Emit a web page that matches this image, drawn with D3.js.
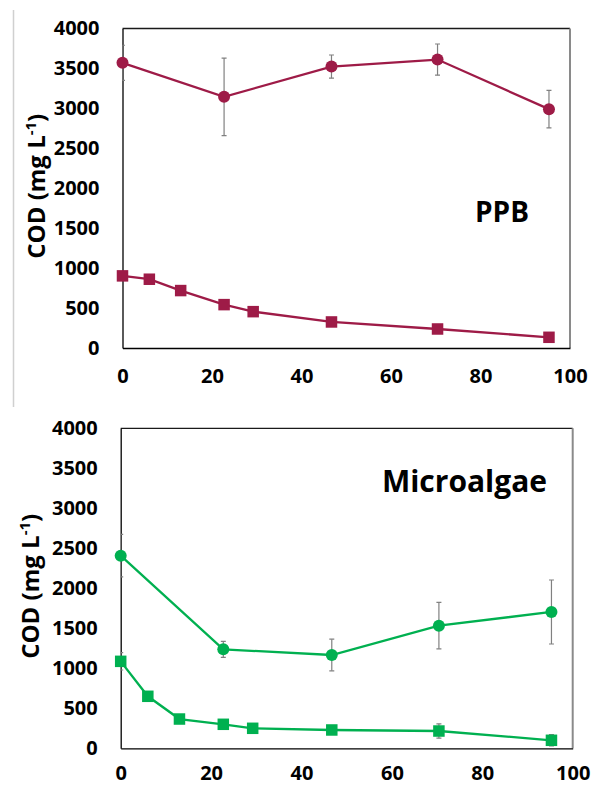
<!DOCTYPE html>
<html>
<head>
<meta charset="utf-8">
<script src="https://cdn.jsdelivr.net/npm/d3@7"></script>
<style>
    body { margin: 0; background: #fff; }
    svg { display: block; }
    .tick text { font-family: "Open Sans", sans-serif; font-weight: bold; font-size: 20px; fill: #000; }
</style>
</head>
<body>
<div id="plot"></div>
<script>

// sampling times (h)
const timeCirc = [0, 22.7, 46.7, 70.4, 95.3];
const timeSq = [0, 6, 13, 22.7, 29.2, 46.7, 70.4, 95.3];

// PPB panel
const ppbCirc = [3570, 3145, 3523, 3611, 2990];
const ppbCircErr = [220, 485, 145, 195, 235];
const ppbSq = [903, 861, 719, 543, 455, 326, 238, 134];
const ppbSqErr = [0, 0, 0, 0, 0, 0, 0, 0];

// Microalgae panel
const algCirc = [2408, 1237, 1166, 1533, 1704];
const algCircErr = [265, 100, 198, 290, 400];
const algSq = [1087, 650, 366, 300, 250, 229, 216, 100];
const algSqErr = [108, 0, 0, 0, 0, 0, 90, 70];

const xTicks = [0, 20, 40, 60, 80, 100];
const yTicks = [0, 500, 1000, 1500, 2000, 2500, 3000, 3500, 4000];

const svg = d3.select("#plot").append("svg")
    .attr("width", 593)
    .attr("height", 787);

// thin grey edge left over from the original figure
svg.append("line")
    .attr("x1", 13.5).attr("x2", 13.5)
    .attr("y1", 10).attr("y2", 407)
    .attr("stroke", "#d0d0d0")
    .attr("stroke-width", 1.5);

function drawPanel(p){
    const g = svg.append("g");

    const x = d3.scaleLinear().domain([0, 100]).range([p.left, p.right]);
    const y = d3.scaleLinear().domain([0, 4000]).range([p.bottom, p.top]);

    // plot frame: top black, right grey
    g.append("line")
        .attr("x1", p.left).attr("x2", p.right)
        .attr("y1", p.top).attr("y2", p.top)
        .attr("stroke", "#1a1a1a").attr("stroke-width", 1.3);
    g.append("line")
        .attr("x1", p.right).attr("x2", p.right)
        .attr("y1", p.top).attr("y2", p.bottom)
        .attr("stroke", "#8a8a8a").attr("stroke-width", 2);

    // axes
    const xAxis = g.append("g")
        .attr("transform", `translate(0,${p.bottom})`)
        .call(d3.axisBottom(x).tickValues(xTicks).tickFormat(d3.format("d")).tickSize(0).tickPadding(p.xPad));
    const yAxis = g.append("g")
        .attr("transform", `translate(${p.left},0)`)
        .call(d3.axisLeft(y).tickValues(yTicks).tickFormat(d3.format("d")).tickSize(0).tickPadding(23));
    [xAxis, yAxis].forEach(a => {
        a.select(".domain").attr("stroke", "#000").attr("stroke-width", 1.3);
        a.attr("font-family", null).attr("font-size", null);
    });

    // axis title
    const title = g.append("text")
        .attr("transform", `translate(${p.titleX},${(p.top + p.bottom) / 2 - 2}) rotate(-90)`)
        .attr("text-anchor", "middle")
        .style("font-family", "'Open Sans', sans-serif")
        .style("font-weight", "bold")
        .style("font-size", "24px");
    title.append("tspan").text("COD (mg L");
    title.append("tspan").attr("dy", -9).style("font-size", "15px").text("-1");
    title.append("tspan").attr("dy", 9).text(")");

    // panel label
    g.append("text")
        .attr("x", p.labelX).attr("y", p.labelY)
        .attr("text-anchor", "middle")
        .style("font-family", "'Open Sans', sans-serif")
        .style("font-weight", "bold")
        .style("font-size", p.labelSize + "px")
        .text(p.label);

    const line = d3.line().x(d => x(d[0])).y(d => y(d[1]));

    const clipId = "clip" + p.label;
    g.append("clipPath").attr("id", clipId)
        .append("rect")
        .attr("x", p.left).attr("y", p.top - 10)
        .attr("width", p.right - p.left + 10).attr("height", p.bottom - p.top + 20);

    const series = [
        {t: timeCirc, v: p.circ, e: p.circErr, shape: "circle"},
        {t: timeSq, v: p.sq, e: p.sqErr, shape: "square"}
    ];

    series.forEach(s => {
        const pts = s.t.map((t, i) => [t, s.v[i], s.e[i]]);

        // error bars
        const eb = g.append("g").attr("clip-path", `url(#${clipId})`)
            .attr("stroke", "#808080").attr("stroke-width", 1.2);
        pts.filter(d => d[2] > 0).forEach(d => {
            const cx = x(d[0]);
            eb.append("line").attr("x1", cx).attr("x2", cx)
                .attr("y1", y(d[1] - d[2])).attr("y2", y(d[1] + d[2]));
            [d[1] - d[2], d[1] + d[2]].forEach(v => {
                eb.append("line").attr("x1", cx - 2.5).attr("x2", cx + 2.5)
                    .attr("y1", y(v)).attr("y2", y(v));
            });
        });

        g.append("path")
            .datum(pts)
            .attr("d", line)
            .attr("fill", "none")
            .attr("stroke", p.color)
            .attr("stroke-width", 2.3);

        if (s.shape == "circle"){
            g.selectAll(null).data(pts).enter().append("circle")
                .attr("cx", d => x(d[0]))
                .attr("cy", d => y(d[1]))
                .attr("r", 6)
                .attr("fill", p.color);
        } else {
            g.selectAll(null).data(pts).enter().append("rect")
                .attr("x", d => x(d[0]) - 5.75)
                .attr("y", d => y(d[1]) - 5.75)
                .attr("width", 11.5)
                .attr("height", 11.5)
                .attr("fill", p.color);
        }
    });
}

drawPanel({
    left: 122.5, right: 570, top: 28.5, bottom: 348,
    circ: ppbCirc, circErr: ppbCircErr, sq: ppbSq, sqErr: ppbSqErr,
    color: "#9E1B47", label: "PPB", labelX: 502, labelY: 222, labelSize: 28,
    titleX: 45, xPad: 21
});

drawPanel({
    left: 120.7, right: 572.7, top: 428.3, bottom: 748.3,
    circ: algCirc, circErr: algCircErr, sq: algSq, sqErr: algSqErr,
    color: "#00B050", label: "Microalgae", labelX: 464.5, labelY: 492, labelSize: 30,
    titleX: 39, xPad: 18
});

</script>
</body>
</html>
